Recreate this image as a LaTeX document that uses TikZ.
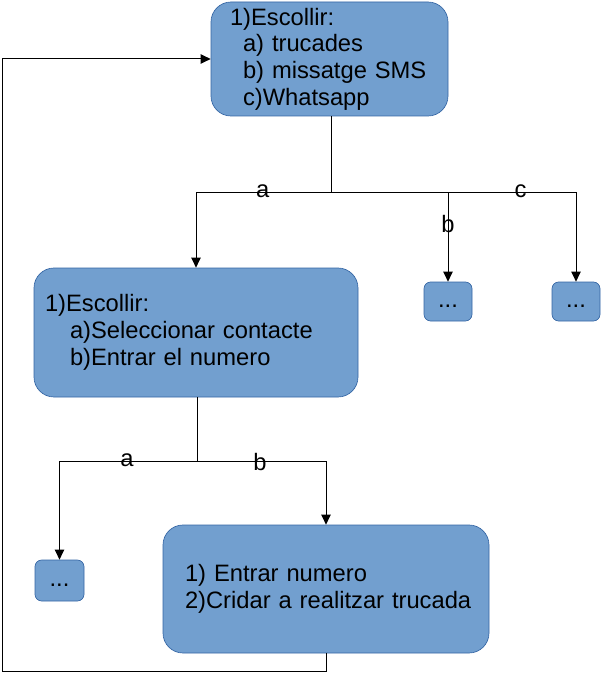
\documentclass[tikz,border=0pt]{standalone}
\usepackage{fontspec}
\setmainfont{Liberation Sans}
\usetikzlibrary{arrows.meta}
\definecolor{boxfill}{HTML}{729FCF}
\definecolor{boxline}{HTML}{3465A4}
\tikzset{
  bigbox/.style={fill=boxfill, draw=boxline, line width=0.5pt, rounded corners=15pt,
    align=left, inner ysep=0pt, font=\fontsize{17.8}{20}\selectfont},
  smallbox/.style={fill=boxfill, draw=boxline, line width=0.5pt, rounded corners=5pt,
    inner sep=0pt, text height=12.75pt, text depth=3.75pt, font=\fontsize{17.8}{20}\selectfont},
  conn/.style={draw=black, line width=0.75pt},
  arr/.style={conn, -{Triangle[length=7.5pt,width=7pt]}},
  lab/.style={anchor=base, inner sep=0pt, font=\fontsize{17.8}{20}\selectfont}
}
\begin{document}
\begin{tikzpicture}[x=0.75pt,y=-0.75pt]
\useasboundingbox (0,0) rectangle (601,673);

% boxes
\node[bigbox, text width=149.25pt, inner xsep=14.25pt, minimum height=85.5pt] (top) at (329.5,59)
  {1)Escollir:\\\hspace*{9.75pt}a) trucades\\\hspace*{9.75pt}b) missatge SMS\\\hspace*{9.75pt}c)Whatsapp};
\node[bigbox, text width=226.5pt, inner xsep=8.25pt, minimum height=96.75pt] (box2) at (196,332.5)
  {1)Escollir:\\\hspace*{18.75pt}a)Seleccionar contacte\\\hspace*{18.75pt}b)Entrar el numero};
\node[bigbox, text width=219pt, inner xsep=12.75pt, minimum height=96pt] (box4) at (326,589)
  {\hspace*{3.75pt}1) Entrar numero\\\hspace*{3.75pt}2)Cridar a realitzar trucada};
\node[smallbox, minimum width=36pt, minimum height=29.25pt] (b1) at (448,301.5) {...};
\node[smallbox, minimum width=36pt, minimum height=29.25pt] (c1) at (576,301.5) {...};
\node[smallbox, minimum width=36.75pt, minimum height=30.75pt] (a1) at (59.5,580.5) {...};

% first branching
\coordinate (j1) at (331,193);
\draw[conn] (top.south -| j1) -- (j1);
\draw[arr] (j1) -| (box2);
\draw[arr] (j1) -| (b1);
\draw[arr] (j1) -| (c1);
\node[lab] (la1) at (262.7,198) {a};
\node[lab] (lb1) at (448,232.5) {b};
\node[lab] (lc1) at (520.5,198) {c};

% second branching
\coordinate (j2) at (197,461.5);
\draw[conn] (box2.south -| j2) -- (j2);
\draw[arr] (j2) -| (a1);
\draw[arr] (j2) -| (box4);
\node[lab] (la2) at (127,466) {a};
\node[lab] (lb2) at (260,470) {b};

% feedback loop
\coordinate (f1) at (326,671.5);
\coordinate (f2) at (2,671.5);
\coordinate (f3) at (2,59);
\draw[arr] (box4.south) -- (f1) -- (f2) -- (f3) -- (top.west);
\end{tikzpicture}
\end{document}
